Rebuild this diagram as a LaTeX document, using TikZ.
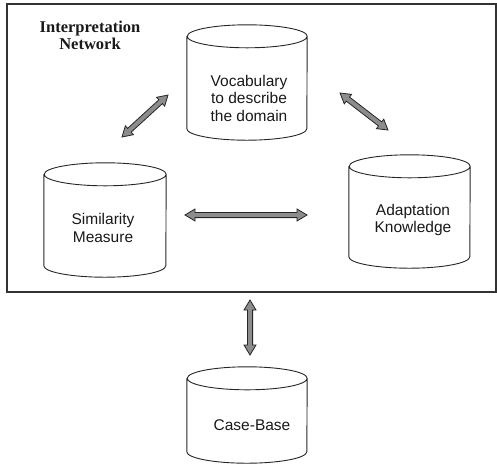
\documentclass[tikz,border=0pt]{standalone}
\usepackage{fontspec}
\setmainfont{Liberation Serif}
\newfontfamily\cylfont{Liberation Sans}
\usetikzlibrary{calc}
\tikzset{
  frameline/.style={draw=black!80, line width=1.2pt},
  cylline/.style={draw=black!85, line width=0.9pt},
  cylbox/.style={draw=none, inner sep=0pt, rectangle},
  cyltext/.style={font=\cylfont\fontsize{15.5}{17.5}\selectfont, align=center, inner sep=0pt, text=black!90},
  titletext/.style={font=\bfseries\fontsize{16.5}{17}\selectfont, align=center, inner sep=0pt, text=black!90},
  arrfill/.style={fill=black!45, draw=black!85, line width=0.8pt, line join=miter},
}
\newcommand\dbcyl[6]{% name, cx, ytop, ybot, width, ry
  \node[cylbox, minimum width=#5pt, minimum height=(#4-#3)*1pt] (#1) at (#2,{(#3+#4)/2}) {};
  \draw[cylline] ([yshift=-#6pt]#1.north west) -- ([yshift=#6pt]#1.south west)
    arc[start angle=180, end angle=360, x radius=#5pt/2, y radius=#6pt]
    -- ([yshift=-#6pt]#1.north east)
    arc[start angle=0, end angle=180, x radius=#5pt/2, y radius=#6pt]
    arc[start angle=180, end angle=360, x radius=#5pt/2, y radius=#6pt];
}
\newcommand\dblarr[2]{%
  \coordinate (h1) at ($(#1)!10pt!(#2)$);
  \coordinate (h2) at ($(#2)!10pt!(#1)$);
  \filldraw[arrfill] (#1) -- ($(h1)!6pt!90:(#1)$) -- ($(h1)!2.6pt!90:(#1)$)
    -- ($(h2)!2.6pt!-90:(#2)$) -- ($(h2)!6pt!-90:(#2)$) -- (#2)
    -- ($(h2)!6pt!90:(#2)$) -- ($(h2)!2.6pt!90:(#2)$)
    -- ($(h1)!2.6pt!-90:(#1)$) -- ($(h1)!6pt!-90:(#1)$) -- cycle;
}
\begin{document}
\begin{tikzpicture}[x=1pt, y=-1pt]
\useasboundingbox (0,0) rectangle (497,467);
\node[cylbox, frameline, minimum width=489pt, minimum height=288pt] (frame) at (251.5,148) {};
\node[titletext] (title) at (90,35) {Interpretation\\Network};
% cylinders
\dbcyl{voc}{247}{25}{140}{120}{11.5}
\dbcyl{sim}{105}{163}{277}{122}{11.5}
\dbcyl{adp}{409.5}{155}{268}{121}{11.5}
\dbcyl{cb}{247}{367}{463}{120}{11.5}
\node[cyltext] (voct) at (249,98) {Vocabulary\\to describe\\the domain};
\node[cyltext] (simt) at (103,228) {Similarity\\Measure};
\node[cyltext] (adpt) at (413,220) {Adaptation\\Knowledge};
\node[cyltext] (cbt) at (252,425) {Case-Base};
% arrow end points
\coordinate (a1s) at (168,95);
\coordinate (a1e) at (122,137);
\coordinate (a2s) at (340,93);
\coordinate (a2e) at (388,130);
\coordinate (a3s) at (185,215);
\coordinate (a3e) at (307,215);
\coordinate (a4s) at (250,300);
\coordinate (a4e) at (250,355);
\dblarr{a1s}{a1e}
\dblarr{a2s}{a2e}
\dblarr{a3s}{a3e}
\dblarr{a4s}{a4e}
\end{tikzpicture}
\end{document}
